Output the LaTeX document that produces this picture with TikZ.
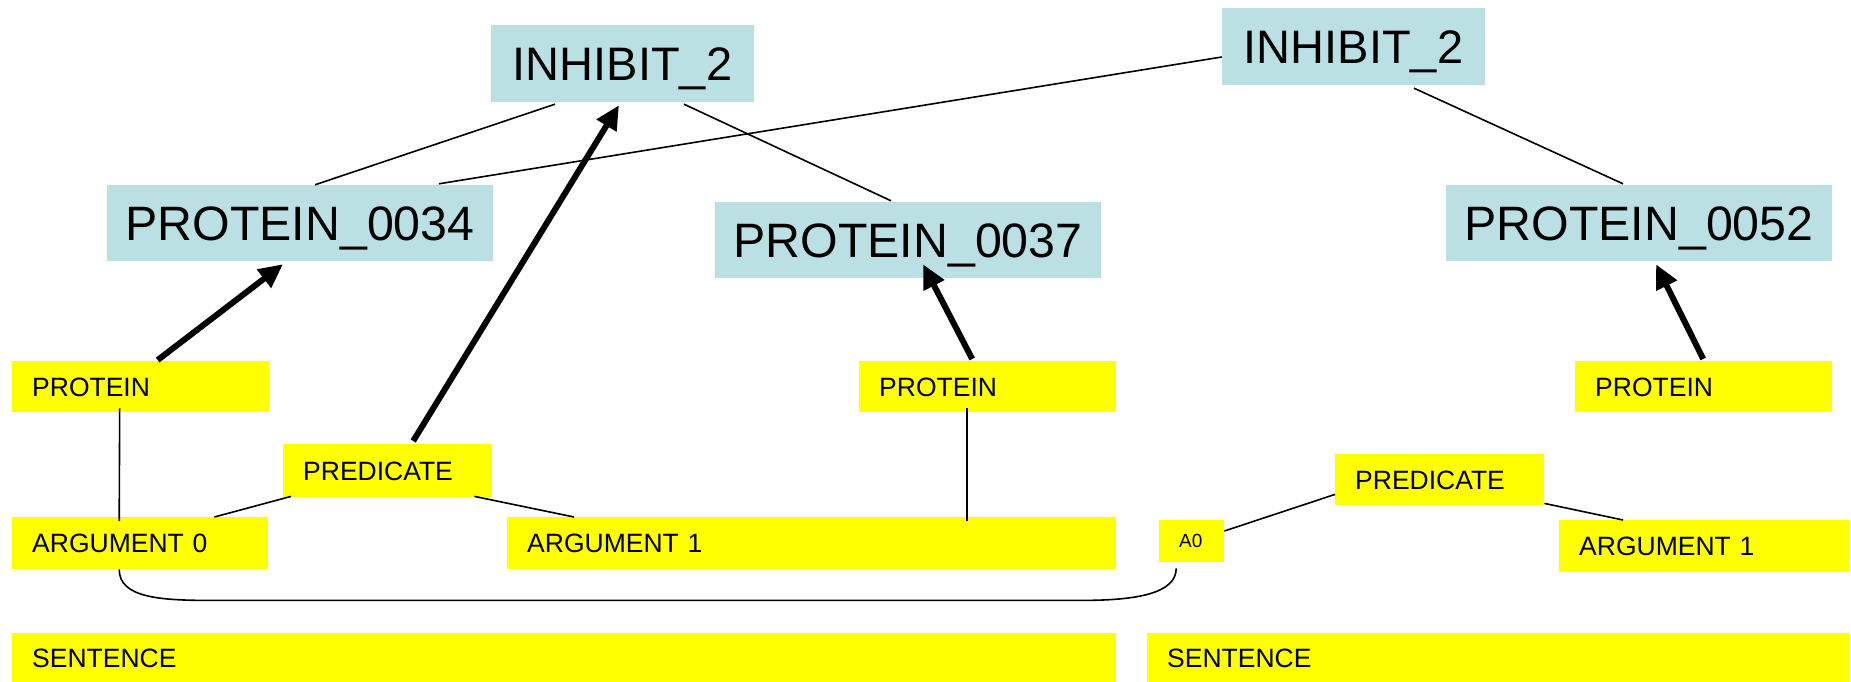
\documentclass[tikz,border=0pt]{standalone}
\usepackage{fontspec}
\setmainfont{Liberation Sans}
\usetikzlibrary{arrows.meta,calc}
\definecolor{entityblue}{RGB}{187,224,227}
\definecolor{tagyellow}{RGB}{255,255,0}
\tikzset{
  entity/.style={fill=entityblue, inner sep=0pt, minimum width=386pt, minimum height=76pt,
    text height=34.5pt, text depth=0pt, font=\fontsize{48.3}{58}\selectfont},
  tag/.style={fill=tagyellow, anchor=north west, inner xsep=20pt, inner ysep=0pt,
    text width=#1, align=left, text height=19pt, text depth=0pt,
    font=\fontsize{26.5}{31}\selectfont},
  link/.style={line width=1.6pt},
  strong/.style={line width=6pt, -{Triangle[length=24pt,width=22pt]}}
}
\begin{document}
\begin{tikzpicture}[x=1pt,y=-1pt]
\useasboundingbox (0,0) rectangle (1851,682);

% event and protein entities
\node[entity, minimum width=263pt, minimum height=77pt, text height=34pt, font=\fontsize{47}{56}\selectfont] (inhL) at (622.5,63.5) {INHIBIT\_2};
\node[entity, minimum width=263pt, minimum height=77pt, text height=34pt, font=\fontsize{47}{56}\selectfont] (inhR) at (1353.5,46.5) {INHIBIT\_2};
\node[entity] (p34) at (300,223) {PROTEIN\_0034};
\node[entity] (p37) at (908,240) {PROTEIN\_0037};
\node[entity] (p52) at (1639,223) {PROTEIN\_0052};

% annotation tags
\node[tag=217pt, minimum height=51pt] (prot1) at (12,361) {PROTEIN};
\node[tag=217pt, minimum height=51pt] (prot2) at (859,361) {PROTEIN};
\node[tag=217pt, minimum height=51pt] (prot3) at (1575,361) {PROTEIN};
\node[tag=169pt, minimum height=53pt] (pred1) at (283,444) {PREDICATE};
\node[tag=216pt, minimum height=52pt] (arg0) at (12,517) {ARGUMENT 0};
\node[tag=569pt, minimum height=52pt] (arg1) at (507,517) {ARGUMENT 1};
\node[tag=25pt, minimum height=42pt, text height=13.5pt, font=\fontsize{19}{23}\selectfont] (a0) at (1159,520) {A0};
\node[tag=169pt, minimum height=51pt] (pred2) at (1335,454) {PREDICATE};
\node[tag=250pt, minimum height=52pt] (arg1r) at (1559,520) {ARGUMENT 1};
\node[tag=1064pt, minimum height=49pt] (sentL) at (12,633) {SENTENCE};
\node[tag=662pt, minimum height=49pt] (sentR) at (1147,633) {SENTENCE};

% event structure links
\draw[link] ($(inhL.south)+(-67.5,2)$) -- ($(p34.north)+(15,0)$);
\draw[link] ($(inhL.south)+(61.5,2)$) -- ($(p37.north)+(-17,-1)$);
\draw[link] ($(inhR.west)+(0,10.5)$) -- ($(p34.north)+(139,-1)$);
\draw[link] ($(inhR.south)+(60.5,3)$) -- ($(p52.north)+(-16,-1)$);

% tag structure links
\draw[link] ($(prot1.south)+(-21,-4)$) -- ($(arg0.north)+(-21,4)$);
\draw[link] ($(prot2.south)+(-20.5,-4)$) -- ($(arg1.north)+(155.5,4)$);
\draw[link] ($(pred1.south west)+(8,-1)$) -- ($(arg0.north east)+(-54,0)$);
\draw[link] ($(pred1.south east)+(-18,-1)$) -- ($(arg1.north west)+(67,0)$);
\draw[link] ($(a0.north east)+(0,11)$) -- ($(pred2.south west)+(0,-11)$);
\draw[link] ($(pred2.south east)+(0,-2)$) -- ($(arg1r.north west)+(64,0)$);

% coreference between ARGUMENT 0 and A0
\draw[link] ($(arg0.south)+(-21,0)$) .. controls +(0,28) and +(-50,0) .. +(90,31)
  -- ($(a0.south)+(-110,38)$) .. controls +(55,0) and +(0,25) .. ($(a0.south)+(-15.5,6)$);

% mappings from tags to entities
\draw[strong] ($(prot1.north)+(17,-1)$) -- ($(p34.south)+(-17,3)$);
\draw[strong] ($(pred1.north)+(25.5,-3)$) -- ($(inhL.south)+(-3.5,3)$);
\draw[strong] ($(prot2.north)+(-15.5,-2)$) -- ($(p37.south)+(15,-14)$);
\draw[strong] ($(prot3.north)+(-0.5,-2)$) -- ($(p52.south)+(17,3)$);
\end{tikzpicture}
\end{document}
